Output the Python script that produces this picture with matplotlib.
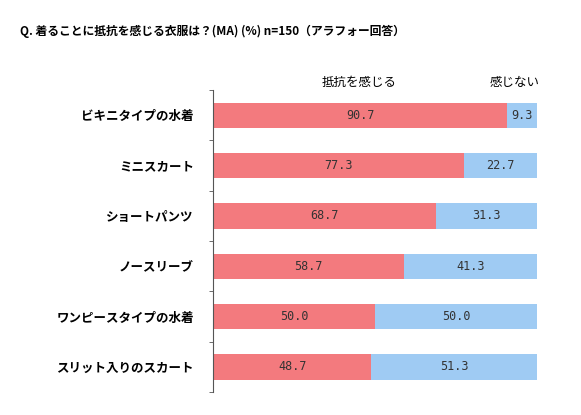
import matplotlib
matplotlib.use('Agg')
import matplotlib.pyplot as plt
import numpy as np

plt.rcParams['font.family'] = ['Noto Sans CJK JP', 'DejaVu Sans']

# ── Data ─────────────────────────────────────────────────────────────────────
items  = ['ビキニタイプの水着', 'ミニスカート', 'ショートパンツ', 'ノースリーブ',
          'ワンピースタイプの水着', 'スリット入りのスカート']
resist = [90.7, 77.3, 68.7, 58.7, 50.0, 48.7]
no_res = [9.3, 22.7, 31.3, 41.3, 50.0, 51.3]
red, blue = '#F37A7E', '#9FCBF3'

fig = plt.figure(figsize=(5.81, 4.15), dpi=100)
ax = fig.add_axes([0.367, 0.055, 0.558, 0.728])

y = np.arange(len(items))
ax.barh(y, resist, height=0.5, color=red)
ax.barh(y, no_res, left=resist, height=0.5, color=blue)

for yi, r, n in zip(y, resist, no_res):
    ax.text(r / 2, yi, f'{r:.1f}', ha='center', va='center', fontsize=8.5,
            color='#333333', family='DejaVu Sans Mono')
    ax.text(r + n / 2, yi, f'{n:.1f}', ha='center', va='center', fontsize=8.5,
            color='#333333', family='DejaVu Sans Mono')

ax.set_xlim(0, 100)
ax.set_ylim(5.5, -0.5)
ax.set_yticks(y)
ax.set_yticklabels(items, fontsize=9, fontweight='bold')
ax.tick_params(axis='y', length=0, pad=14)
ax.set_yticks(np.arange(-0.5, 6.0, 1.0), minor=True)
ax.tick_params(axis='y', which='minor', length=3, direction='out', color='#555555')
ax.set_xticks([])
for s in ['top', 'right', 'bottom']:
    ax.spines[s].set_visible(False)
ax.spines['left'].set_color('#555555')

ax.text(45, -0.52, '抵抗を感じる', ha='center', va='bottom', fontsize=9)
ax.text(93, -0.52, '感じない', ha='center', va='bottom', fontsize=9)

fig.text(0.035, 0.925, 'Q. 着ることに抵抗を感じる衣服は？(MA) (%) n=150（アラフォー回答）',
         fontsize=8.5, fontweight='bold', ha='left', va='center')

fig.savefig('out.png', dpi=100)
